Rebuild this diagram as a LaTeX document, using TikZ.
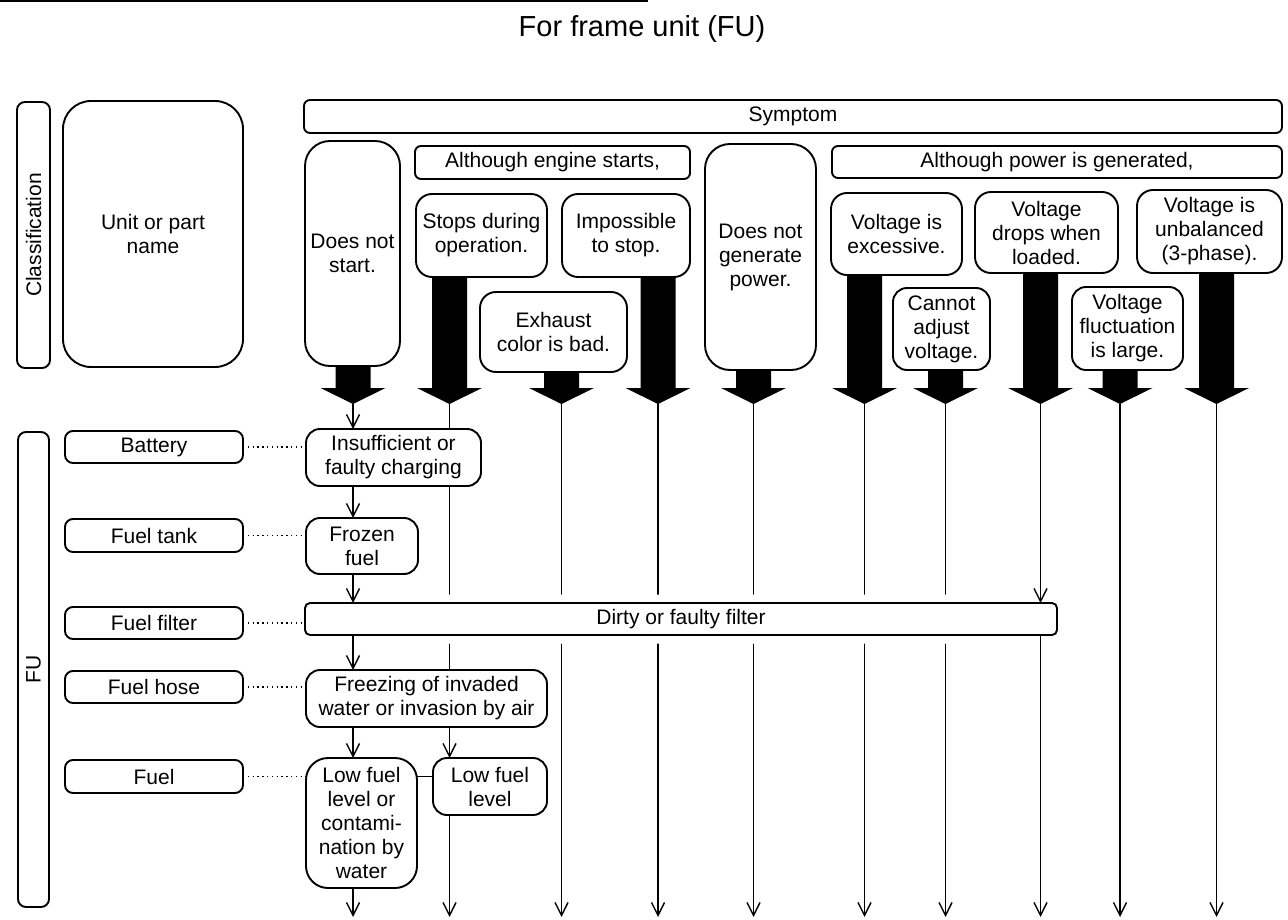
\documentclass[tikz,border=0pt]{standalone}
\usepackage{fontspec}
\setmainfont{Liberation Sans}
\usetikzlibrary{arrows.meta,calc,backgrounds}

% box node from its corner coordinates: name, x1, y1, x2, y2, options, text
\newcommand\boxat[7]{%
  \node[box,#6,minimum width={#4-#2},minimum height={#5-#3}] (#1)
    at ({(#2+#4)/2},{(#3+#5)/2}) {#7};}

% broad black arrow from the bottom of a symptom box to a tip coordinate
\newcommand\fatarrow[2]{%
  \fill ($(#2 |- #1.south)+(-17.5,0)$) -- ($(#2)+(-17.5,-16)$)
    -- ($(#2)+(-32.5,-16)$) -- (#2) -- ($(#2)+(32.5,-16)$)
    -- ($(#2)+(17.5,-16)$) -- ($(#2 |- #1.south)+(17.5,0)$) -- cycle;}

\begin{document}
\begin{tikzpicture}[x=1pt,y=-1pt,
  txt/.style={font=\fontsize{21}{24}\selectfont, align=center},
  box/.style={txt, draw, fill=white, line width=1.9pt, inner sep=0pt, outer sep=0pt},
  thinline/.style={line width=1.4pt},
  arr/.style={thinline, -{Straight Barb[length=13pt,width=13pt]}},
  dots/.style={line width=1.4pt, dash pattern=on 1.4pt off 3.4pt}]

\useasboundingbox (0,0) rectangle (1288,920);

% rule along the top edge and title
\draw[line width=2.2pt] (0,1) -- (648,1);
\node[font=\fontsize{29}{32}\selectfont, anchor=base] (title) at (642,37) {For frame unit (FU)};

% header column
\boxat{cls}{17}{102}{50}{368}{rounded corners=8pt}{}
\node[txt, rotate=90] (clstext) at (cls.center) {Classification};
\boxat{unit}{63}{101}{243}{367}{rounded corners=28pt}{Unit or part\\name}

% symptoms
\boxat{sym}{304}{100}{1282}{133}{rounded corners=6pt}{Symptom}
\boxat{eng}{415}{146}{690}{179}{rounded corners=6pt}{Although engine starts,}
\boxat{pow}{832}{146}{1282}{178}{rounded corners=6pt}{Although power is generated,}

\boxat{nostart}{305}{141}{400}{366}{rounded corners=25pt}{Does not\\start.}
\boxat{stops}{416}{194}{547}{277}{rounded corners=16pt}{Stops during\\operation.}
\boxat{nostop}{562}{194}{690}{277}{rounded corners=16pt}{Impossible\\to stop.}
\boxat{exh}{480}{292}{627}{372}{rounded corners=16pt}{Exhaust\\color is bad.}
\boxat{nogen}{705}{144}{816}{370}{rounded corners=25pt}{Does not\\generate\\power.}
\boxat{vexc}{831}{193}{962}{275}{rounded corners=16pt}{Voltage is\\excessive.}
\boxat{vadj}{893}{288}{990}{370}{rounded corners=14pt}{Cannot\\adjust\\voltage.}
\boxat{vdrop}{975}{192}{1118}{273}{rounded corners=16pt}{Voltage\\drops when\\loaded.}
\boxat{vfluc}{1072}{287}{1183}{370}{rounded corners=14pt}{Voltage\\fluctuation\\is large.}
\boxat{vunb}{1137}{190}{1282}{273}{rounded corners=16pt}{Voltage is\\unbalanced\\(3-phase).}

% arrow tips and lower ends of the symptom columns
\foreach \n/\x in {1/353,2/449.5,3/561.5,4/658,5/753.5,6/864.5,7/945.5,8/1040.5,9/1120,10/1216.5}{
  \coordinate (t\n) at (\x,404);
  \coordinate (e\n) at (\x,917);
}

\fatarrow{nostart}{t1}
\fatarrow{stops}{t2}
\fatarrow{exh}{t3}
\fatarrow{nostop}{t4}
\fatarrow{nogen}{t5}
\fatarrow{vexc}{t6}
\fatarrow{vadj}{t7}
\fatarrow{vdrop}{t8}
\fatarrow{vfluc}{t9}
\fatarrow{vunb}{t10}

% unit / part names
\boxat{fu}{18}{432}{49}{907}{rounded corners=8pt}{}
\node[txt, rotate=90] (futext) at (fu.center) {FU};
\boxat{bat}{65}{431}{243}{463}{rounded corners=8pt}{Battery}
\boxat{tank}{65}{519}{243}{552}{rounded corners=8pt}{Fuel tank}
\boxat{fil}{65}{607}{243}{639}{rounded corners=8pt}{Fuel filter}
\boxat{hosen}{65}{671}{243}{703}{rounded corners=8pt}{Fuel hose}
\boxat{fuel}{65}{760}{243}{793}{rounded corners=8pt}{Fuel}

% causes
\boxat{ins}{306}{429}{481}{486}{rounded corners=14pt}{Insufficient or\\faulty charging}
\boxat{frz}{306}{518}{418}{574}{rounded corners=14pt}{Frozen\\fuel}
\boxat{flt}{305}{603}{1057}{635}{rounded corners=5pt,
  preaction={draw=white,line width=17pt}}{Dirty or faulty filter}
\boxat{hose}{306}{670}{547}{727}{rounded corners=14pt}{Freezing of invaded\\water or invasion by air}
\boxat{lf1}{306}{758}{417}{888}{rounded corners=22pt}{Low fuel\\level or\\contami-\\nation by\\water}
\boxat{lf2}{433}{758}{547}{815}{rounded corners=14pt}{Low fuel\\level}

% columns running behind the cause boxes
\begin{scope}[on background layer]
  \draw[thinline] (t2) -- (t2 |- lf2.north);
  \foreach \n in {3,4,5,6,7,9,10}{
    \draw[arr] (t\n) -- (e\n);
  }
\end{scope}

% cause chains
\draw[arr] (t1) -- (t1 |- ins.north);
\draw[arr] (t1 |- ins.south) -- (t1 |- frz.north);
\draw[arr] (t1 |- frz.south) -- (t1 |- flt.north);
\draw[arr] (t1 |- flt.south) -- (t1 |- hose.north);
\draw[arr] (t1 |- hose.south) -- (t1 |- lf1.north);
\draw[arr] (t1 |- lf1.south) -- (e1);
\draw[arr] (t2 |- hose.south) -- (t2 |- lf2.north);
\draw[arr] (t2 |- lf2.south) -- (e2);
\draw[arr] (t8) -- (t8 |- flt.north);
\draw[arr] (t8 |- flt.south) -- (e8);
\draw[thinline] (lf1.east |- fuel.east) -- (lf2.west |- fuel.east);

% dotted leaders from part names to causes
\draw[dots] (bat.east) -- (ins.west |- bat.east);
\draw[dots] (tank.east) -- (frz.west |- tank.east);
\draw[dots] (fil.east) -- (flt.west |- fil.east);
\draw[dots] (hosen.east) -- (hose.west |- hosen.east);
\draw[dots] (fuel.east) -- (lf1.west |- fuel.east);

\end{tikzpicture}
\end{document}
